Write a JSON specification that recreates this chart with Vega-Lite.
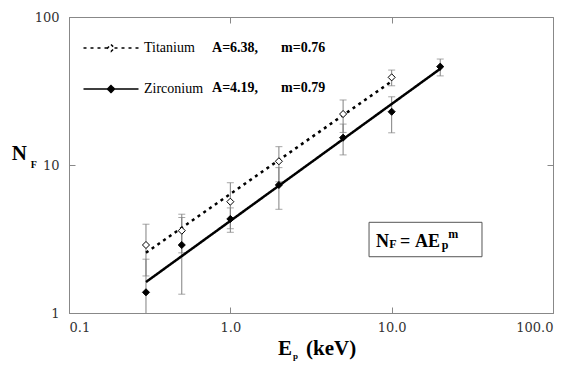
{
  "$schema": "https://vega.github.io/schema/vega-lite/v6.json",
  "width": 484,
  "height": 296,
  "autosize": {"type": "none"},
  "padding": {"left": 69, "top": 17, "right": 18, "bottom": 57},
  "background": "white",
  "config": {
    "view": {"stroke": "#888", "strokeWidth": 1},
    "axis": {"grid": false, "labelFont": "DejaVu Serif", "labelFontSize": 13, "labelColor": "#333", "domainColor": "#888", "tickColor": "#888", "title": null},
    "legend": {"labelFont": "Liberation Serif"},
    "text": {"font": "Times New Roman", "color": "black"}
  },
  "datasets": {
    "pts": [
      {"series": "Titanium", "E": 0.3, "N": 2.88, "lo": 1.78, "hi": 3.98},
      {"series": "Titanium", "E": 0.5, "N": 3.6, "lo": 2.55, "hi": 4.65},
      {"series": "Titanium", "E": 1, "N": 5.65, "lo": 3.71, "hi": 7.59},
      {"series": "Titanium", "E": 2, "N": 10.6, "lo": 7.7, "hi": 13.3},
      {"series": "Titanium", "E": 5, "N": 22.1, "lo": 16.6, "hi": 27.5},
      {"series": "Titanium", "E": 10, "N": 39.1, "lo": 34.3, "hi": 43.8},
      {"series": "Zirconium", "E": 0.3, "N": 1.38, "lo": 0.45, "hi": 2.31},
      {"series": "Zirconium", "E": 0.5, "N": 2.88, "lo": 1.34, "hi": 4.42},
      {"series": "Zirconium", "E": 1, "N": 4.32, "lo": 3.51, "hi": 5.13},
      {"series": "Zirconium", "E": 2, "N": 7.33, "lo": 5.02, "hi": 9.6},
      {"series": "Zirconium", "E": 5, "N": 15.3, "lo": 11.7, "hi": 18.9},
      {"series": "Zirconium", "E": 10, "N": 22.9, "lo": 16.5, "hi": 28.9},
      {"series": "Zirconium", "E": 20, "N": 46.2, "lo": 40, "hi": 52}
    ],
    "fit": [
      {"series": "Titanium", "E": 0.3, "N": 2.555},
      {"series": "Titanium", "E": 10, "N": 36.71},
      {"series": "Zirconium", "E": 0.3, "N": 1.619},
      {"series": "Zirconium", "E": 20, "N": 44.67}
    ]
  },
  "resolve": {"axis": {"x": "independent", "y": "independent"}},
  "layer": [
    {
      "data": {"name": "pts"},
      "mark": {"type": "errorbar", "orient": "vertical", "ticks": true, "size": 7, "thickness": 1, "color": "#808080", "clip": true},
      "encoding": {
        "x": {"field": "E", "type": "quantitative", "scale": {"type": "log", "domain": [0.1, 100]}, "axis": null},
        "y": {"field": "lo", "type": "quantitative", "scale": {"type": "log", "domain": [1, 100]}, "axis": null},
        "y2": {"field": "hi"}
      }
    },
    {
      "data": {"name": "fit"},
      "mark": {"type": "line", "color": "black", "strokeWidth": 2.5},
      "encoding": {
        "x": {"field": "E", "type": "quantitative", "scale": {"type": "log", "domain": [0.1, 100]},
              "axis": {"orient": "bottom", "values": [0.1, 1, 10, 100], "format": ".1f", "tickSize": -6, "labelPadding": 14}},
        "y": {"field": "N", "type": "quantitative", "scale": {"type": "log", "domain": [1, 100]},
              "axis": {"orient": "left", "values": [1, 10, 100], "format": "d", "tickSize": -6, "labelPadding": 16}},
        "strokeDash": {"field": "series", "type": "nominal",
          "scale": {"domain": ["Titanium", "Zirconium"], "range": [[3, 4], [1, 0]]},
          "legend": {"orient": "none", "legendX": 35, "legendY": 24, "title": null,
            "symbolType": "M-5.5,0H-0.7M0.7,0H5.5M0,-0.7L0.7,0L0,0.7L-0.7,0Z",
            "symbolSize": 100, "symbolStrokeWidth": 1.5, "symbolStrokeColor": "black",
            "labelFontSize": 14, "labelColor": "black",
            "labelOffset": 26, "rowPadding": 27,
            "encode": {"symbols": {"update": {"fill": {"signal": "datum.value === 'Titanium' ? 'white' : 'black'"}, "stroke": {"value": "black"}}}}}
        }
      }
    },
    {
      "data": {"name": "pts"},
      "mark": {"type": "point", "shape": "diamond", "filled": true, "size": 50, "stroke": "black", "strokeWidth": 1, "opacity": 1},
      "encoding": {
        "x": {"field": "E", "type": "quantitative", "scale": {"type": "log", "domain": [0.1, 100]},
              "axis": {"orient": "top", "values": [1, 10], "labels": false, "tickSize": -6}},
        "y": {"field": "N", "type": "quantitative", "scale": {"type": "log", "domain": [1, 100]},
              "axis": {"orient": "right", "values": [10], "labels": false, "tickSize": -6}},
        "fill": {"field": "series", "type": "nominal", "scale": {"domain": ["Titanium", "Zirconium"], "range": ["white", "black"]}, "legend": null}
      }
    },
    {
      "data": {"values": [{}]},
      "mark": {"type": "text", "text": "A=6.38,", "fontWeight": "bold", "fontSize": 14, "align": "left", "baseline": "middle"},
      "encoding": {"x": {"datum": 0.77, "type": "quantitative", "axis": null}, "y": {"datum": 62.0, "type": "quantitative", "axis": null}}
    },
    {
      "data": {"values": [{}]},
      "mark": {"type": "text", "text": "m=0.76", "fontWeight": "bold", "fontSize": 14, "align": "left", "baseline": "middle"},
      "encoding": {"x": {"datum": 2.062, "type": "quantitative", "axis": null}, "y": {"datum": 62.0, "type": "quantitative", "axis": null}}
    },
    {
      "data": {"values": [{}]},
      "mark": {"type": "text", "text": "A=4.19,", "fontWeight": "bold", "fontSize": 14, "align": "left", "baseline": "middle"},
      "encoding": {"x": {"datum": 0.77, "type": "quantitative", "axis": null}, "y": {"datum": 32.98, "type": "quantitative", "axis": null}}
    },
    {
      "data": {"values": [{}]},
      "mark": {"type": "text", "text": "m=0.79", "fontWeight": "bold", "fontSize": 14, "align": "left", "baseline": "middle"},
      "encoding": {"x": {"datum": 2.062, "type": "quantitative", "axis": null}, "y": {"datum": 32.98, "type": "quantitative", "axis": null}}
    },
    {
      "data": {"values": [{}]},
      "mark": {"type": "rect", "fill": "white", "stroke": "#555", "strokeWidth": 1},
      "encoding": {
        "x": {"datum": 7.24, "type": "quantitative", "axis": null}, "x2": {"datum": 36.3},
        "y": {"datum": 4.10, "type": "quantitative", "axis": null}, "y2": {"datum": 2.40}
      }
    },
    {
      "data": {"values": [{}]},
      "mark": {"type": "text", "text": "N", "fontWeight": "bold", "fontSize": 18, "align": "left", "baseline": "alphabetic", "dx": 0},
      "encoding": {"x": {"datum": 8.0, "type": "quantitative", "axis": null}, "y": {"datum": 2.805, "type": "quantitative", "axis": null}}
    },
    {
      "data": {"values": [{}]},
      "mark": {"type": "text", "text": "F", "fontWeight": "bold", "fontSize": 12, "align": "left", "baseline": "alphabetic", "dx": 13.3, "dy": 1.6},
      "encoding": {"x": {"datum": 8.0, "type": "quantitative", "axis": null}, "y": {"datum": 2.805, "type": "quantitative", "axis": null}}
    },
    {
      "data": {"values": [{}]},
      "mark": {"type": "text", "text": "=", "fontWeight": "bold", "fontSize": 18, "align": "left", "baseline": "alphabetic", "dx": 24},
      "encoding": {"x": {"datum": 8.0, "type": "quantitative", "axis": null}, "y": {"datum": 2.805, "type": "quantitative", "axis": null}}
    },
    {
      "data": {"values": [{}]},
      "mark": {"type": "text", "text": "AE", "fontWeight": "bold", "fontSize": 18, "align": "left", "baseline": "alphabetic", "dx": 39},
      "encoding": {"x": {"datum": 8.0, "type": "quantitative", "axis": null}, "y": {"datum": 2.805, "type": "quantitative", "axis": null}}
    },
    {
      "data": {"values": [{}]},
      "mark": {"type": "text", "text": "p", "fontWeight": "bold", "fontSize": 12, "align": "left", "baseline": "alphabetic", "dx": 65.7, "dy": 2.5},
      "encoding": {"x": {"datum": 8.0, "type": "quantitative", "axis": null}, "y": {"datum": 2.805, "type": "quantitative", "axis": null}}
    },
    {
      "data": {"values": [{}]},
      "mark": {"type": "text", "text": "m", "fontWeight": "bold", "fontSize": 12, "align": "left", "baseline": "alphabetic", "dx": 72.3, "dy": -8.4},
      "encoding": {"x": {"datum": 8.0, "type": "quantitative", "axis": null}, "y": {"datum": 2.805, "type": "quantitative", "axis": null}}
    },
    {
      "data": {"values": [{}]},
      "mark": {"type": "text", "text": "N", "fontWeight": "bold", "fontSize": 21, "align": "left", "baseline": "alphabetic"},
      "encoding": {"x": {"datum": 0.0442, "type": "quantitative", "axis": null}, "y": {"datum": 10.81, "type": "quantitative", "axis": null}}
    },
    {
      "data": {"values": [{}]},
      "mark": {"type": "text", "text": "F", "fontWeight": "bold", "fontSize": 10, "align": "left", "baseline": "alphabetic", "dx": 19, "dy": 8},
      "encoding": {"x": {"datum": 0.0442, "type": "quantitative", "axis": null}, "y": {"datum": 10.81, "type": "quantitative", "axis": null}}
    },
    {
      "data": {"values": [{}]},
      "mark": {"type": "text", "text": "E", "fontWeight": "bold", "fontSize": 21, "align": "left", "baseline": "alphabetic"},
      "encoding": {"x": {"datum": 1.975, "type": "quantitative", "axis": null}, "y": {"datum": 0.52, "type": "quantitative", "axis": null}}
    },
    {
      "data": {"values": [{}]},
      "mark": {"type": "text", "text": "p", "fontWeight": "bold", "fontSize": 9, "align": "left", "baseline": "alphabetic", "dx": 15, "dy": 4},
      "encoding": {"x": {"datum": 1.975, "type": "quantitative", "axis": null}, "y": {"datum": 0.52, "type": "quantitative", "axis": null}}
    },
    {
      "data": {"values": [{}]},
      "mark": {"type": "text", "text": "(keV)", "fontWeight": "bold", "fontSize": 21, "align": "left", "baseline": "alphabetic", "dx": 28},
      "encoding": {"x": {"datum": 1.975, "type": "quantitative", "axis": null}, "y": {"datum": 0.52, "type": "quantitative", "axis": null}}
    }
  ]
}
